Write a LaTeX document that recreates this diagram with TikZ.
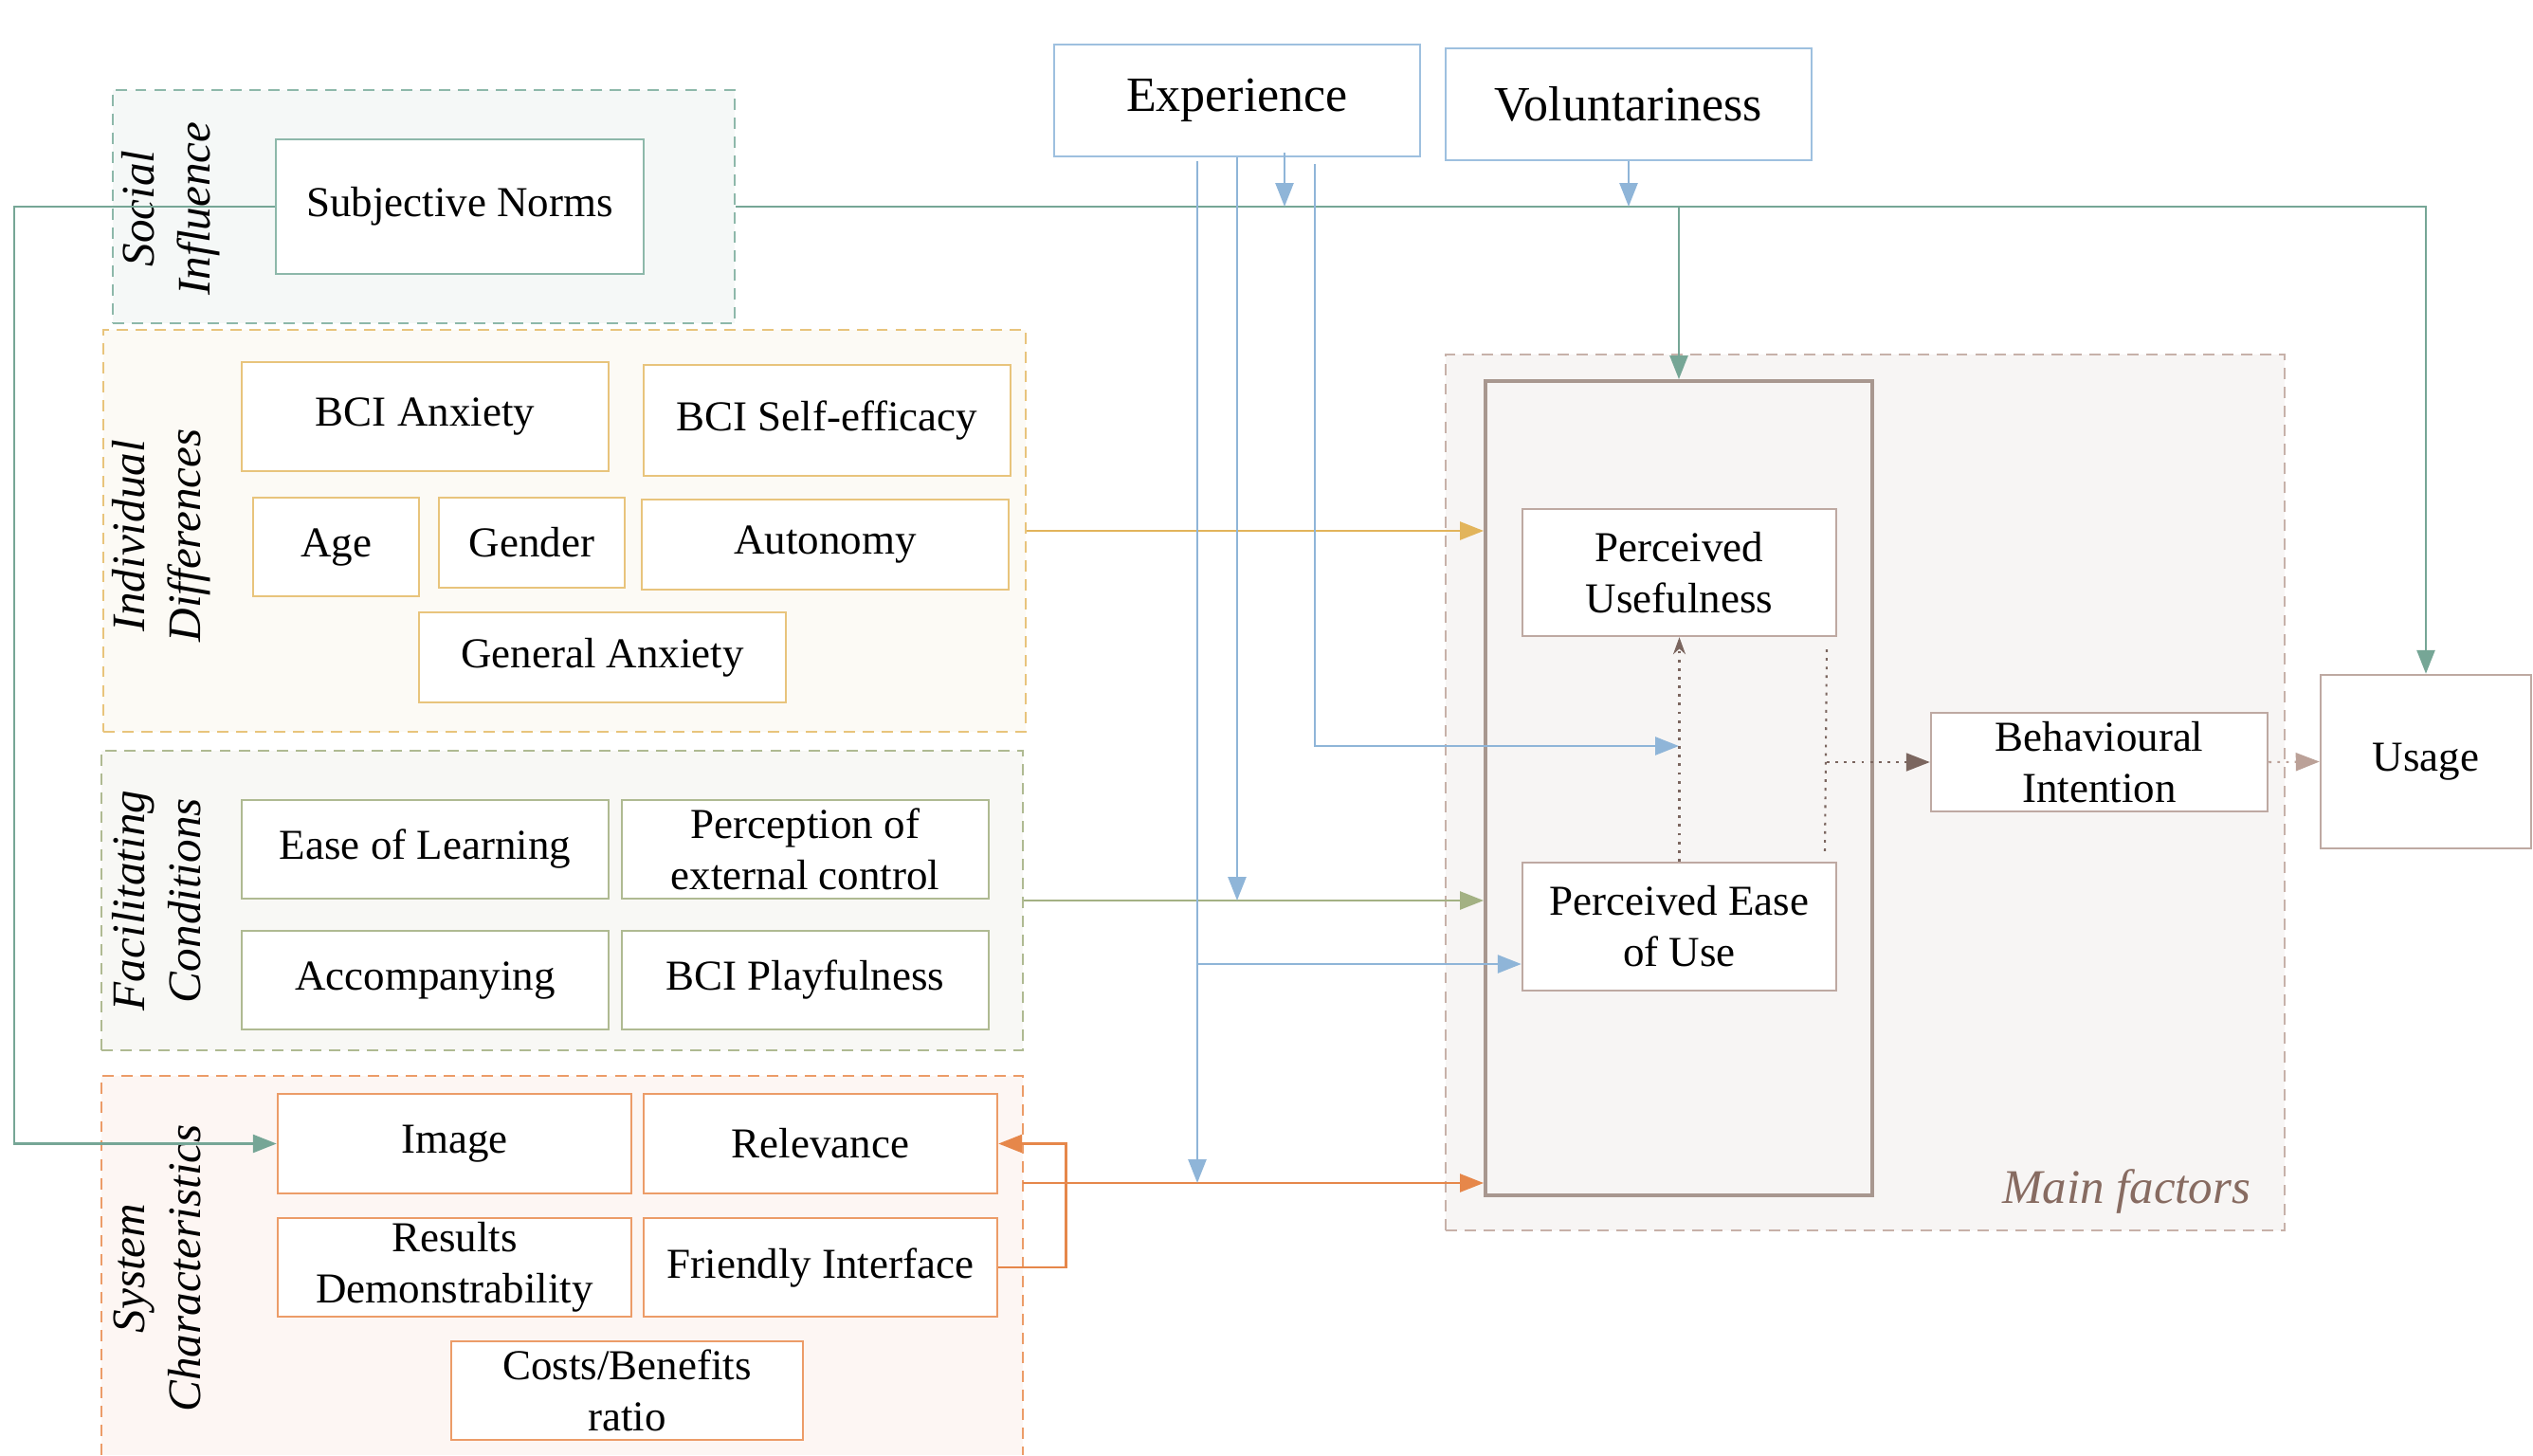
\documentclass[tikz,border=0pt]{standalone}
\usepackage{fontspec}
\setmainfont{Liberation Serif}
\usepackage{tikz}
\usetikzlibrary{arrows.meta}
\usetikzlibrary{positioning}

\definecolor{siline}{HTML}{76A696}
\definecolor{siedge}{HTML}{8DB8AA}
\definecolor{sifill}{HTML}{F5F8F7}
\definecolor{idline}{HTML}{E2B45B}
\definecolor{idedge}{HTML}{E8C47C}
\definecolor{idfill}{HTML}{FCFAF5}
\definecolor{fcline}{HTML}{A3B183}
\definecolor{fcedge}{HTML}{AFBA92}
\definecolor{fcfill}{HTML}{F8F8F5}
\definecolor{scline}{HTML}{E6874A}
\definecolor{scedge}{HTML}{EC9C68}
\definecolor{scfill}{HTML}{FDF6F3}
\definecolor{exline}{HTML}{8FB5D8}
\definecolor{exedge}{HTML}{9EC0DF}
\definecolor{mfedge}{HTML}{BEA9A2}
\definecolor{mfinner}{HTML}{A8978F}
\definecolor{mfdash}{HTML}{C7B1A9}
\definecolor{mffill}{HTML}{F7F5F4}
\definecolor{mftext}{HTML}{876B61}
\definecolor{mfdark}{HTML}{7B665F}
\definecolor{mflight}{HTML}{BBA198}

\begin{document}
\begin{tikzpicture}[x=1cm,y=-1cm,
  box/.style={draw,fill=white,line width=0.7pt,inner sep=0pt,align=center,
    font=\fontsize{12.8}{15.4}\selectfont},
  bigbox/.style={box,draw=exedge,font=\fontsize{14.8}{17.8}\selectfont},
  sibox/.style={box,draw=siedge},
  idbox/.style={box,draw=idedge},
  fcbox/.style={box,draw=fcedge},
  scbox/.style={box,draw=scedge},
  mfbox/.style={box,draw=mfedge},
  grp/.style={draw,line width=0.6pt,dash pattern=on 3.4pt off 2.3pt,inner sep=0pt},
  grplabel/.style={rotate=90,align=center,font=\fontsize{14}{16.8}\selectfont\itshape},
  conn/.style={line width=0.75pt},
  arr/.style={-{Triangle[length=2.5mm,width=1.9mm]}},
  dots/.style={line width=0.6pt,dash pattern=on 0.8pt off 1.8pt}]

\useasboundingbox (0,0) rectangle (26.72,15.35);

% groups
\node[grp,draw=siedge,fill=sifill,minimum width=6.56cm,minimum height=2.46cm] (gsoc) at (4.47,2.18) {};
\node[grp,draw=idedge,fill=idfill,minimum width=9.73cm,minimum height=4.24cm] (gind) at (5.955,5.60) {};
\node[grp,draw=fcedge,fill=fcfill,minimum width=9.72cm,minimum height=3.16cm] (gfac) at (5.93,9.50) {};
\fill[scfill] (1.07,11.35) rectangle (10.79,15.35);
\draw[grp,draw=scedge] (1.07,15.35) -- (1.07,11.35) -- (10.79,11.35) -- (10.79,15.35);
\coordinate (gsys) at (10.79,12.48);
\node[grp,draw=mfdash,fill=mffill,minimum width=8.85cm,minimum height=9.24cm] (gmain) at (19.675,8.36) {};
\node[draw=mfinner,fill=mffill,line width=1.1pt,minimum width=4.08cm,minimum height=8.59cm] (inner) at (17.71,8.315) {};

\node[grplabel] at (1.80,2.20) {Social\\Influence};
\node[grplabel] at (1.70,5.65) {Individual\\Differences};
\node[grplabel] at (1.65,9.50) {Facilitating\\Conditions};
\node[grplabel] at (1.66,13.38) {System\\Characteristics};
\node[font=\fontsize{14.5}{17}\selectfont\itshape,text=mftext] at (22.43,12.57) {Main factors};

% factors
\node[sibox,minimum width=3.88cm,minimum height=1.42cm] (sn) at (4.85,2.18) {Subjective Norms};
\node[bigbox,minimum width=3.86cm,minimum height=1.18cm] (exp) at (13.05,1.06) {Experience};
\node[bigbox,minimum width=3.86cm,minimum height=1.18cm] (vol) at (17.18,1.10) {Voluntariness};

\node[idbox,minimum width=3.87cm,minimum height=1.15cm] (anx) at (4.485,4.395) {BCI Anxiety};
\node[idbox,minimum width=3.87cm,minimum height=1.17cm] (seff) at (8.725,4.435) {BCI Self-efficacy};
\node[idbox,minimum width=1.75cm,minimum height=1.04cm] (age) at (3.545,5.77) {Age};
\node[idbox,minimum width=1.96cm,minimum height=0.95cm] (gender) at (5.61,5.725) {Gender};
\node[idbox,minimum width=3.87cm,minimum height=0.95cm] (auto) at (8.705,5.745) {Autonomy};
\node[idbox,minimum width=3.87cm,minimum height=0.95cm] (ganx) at (6.355,6.935) {General Anxiety};

\node[fcbox,minimum width=3.87cm,minimum height=1.04cm] (eol) at (4.485,8.96) {Ease of Learning};
\node[fcbox,minimum width=3.87cm,minimum height=1.04cm] (pec) at (8.495,8.96) {Perception of\\external control};
\node[fcbox,minimum width=3.87cm,minimum height=1.04cm] (acc) at (4.485,10.34) {Accompanying};
\node[fcbox,minimum width=3.87cm,minimum height=1.04cm] (play) at (8.495,10.34) {BCI Playfulness};

\node[scbox,minimum width=3.73cm,minimum height=1.05cm] (img) at (4.795,12.065) {Image};
\node[scbox,minimum width=3.73cm,minimum height=1.05cm] (rel) at (8.655,12.065) {Relevance};
\node[scbox,minimum width=3.73cm,minimum height=1.04cm] (res) at (4.795,13.37) {Results\\Demonstrability};
\node[scbox,minimum width=3.73cm,minimum height=1.04cm] (fri) at (8.655,13.37) {Friendly Interface};
\node[scbox,minimum width=3.71cm,minimum height=1.04cm] (cost) at (6.615,14.67) {Costs/Benefits\\ratio};

\node[mfbox,minimum width=3.31cm,minimum height=1.34cm] (pu) at (17.715,6.04) {Perceived\\Usefulness};
\node[mfbox,minimum width=3.31cm,minimum height=1.35cm] (peou) at (17.715,9.775) {Perceived Ease\\of Use};
\node[mfbox,minimum width=3.55cm,minimum height=1.04cm] (bi) at (22.145,8.04) {Behavioural\\Intention};
\node[mfbox,minimum width=2.22cm,minimum height=1.83cm] (usage) at (25.59,8.035) {Usage};

% social influence
\draw[conn,siline,arr] (sn.west) -- (0.15,2.18) |- (img.west);
\draw[conn,siline,arr] (gsoc.east) -| (usage.north);
\draw[conn,siline,arr] (gsoc.east -| inner.north) -- (inner.north);

% groups into main factors
\draw[conn,idline,arr] (gind.east) -- (gind.east -| inner.west);
\draw[conn,fcline,arr] (gfac.east) -- (gfac.east -| inner.west);
\draw[conn,scline,arr] (gsys) -- (gsys -| inner.west);
\draw[conn,scline,arr] (fri.east) -- ++(0.71,0) |- (rel.east);

% moderators
\coordinate (eA) at (12.63,1.70);
\coordinate (eB) at (12.63,10.17);
\coordinate (eC) at (13.55,1.61);
\coordinate (eD) at (13.87,1.73);
\coordinate (puin) at (17.71,7.87);
\draw[conn,exline,arr] (eA) -- (eA |- gsys);
\draw[conn,exline,arr] (eB) -- (eB -| peou.west);
\draw[conn,exline,arr] (exp.south) -- (exp.south |- gfac.east);
\draw[conn,exline,arr] (eC) -- (eC |- gsoc.east);
\draw[conn,exline,arr] (eD) |- (puin);
\draw[conn,exline,arr] (vol.south) -- (vol.south |- gsoc.east);

% main factors
\coordinate (jt) at (19.27,6.85);
\coordinate (jb) at (19.25,9.00);
\draw[dots,mfdark,-{Stealth[length=1.8mm,width=1.3mm]}] (peou.north) -- (pu.south);
\draw[dots,mfdark] (jt) -- (jb);
\draw[dots,mfdark,arr] (jt |- bi.west) -- (bi.west);
\draw[dots,mflight,arr] (bi.east) -- (usage.west);
\end{tikzpicture}
\end{document}
